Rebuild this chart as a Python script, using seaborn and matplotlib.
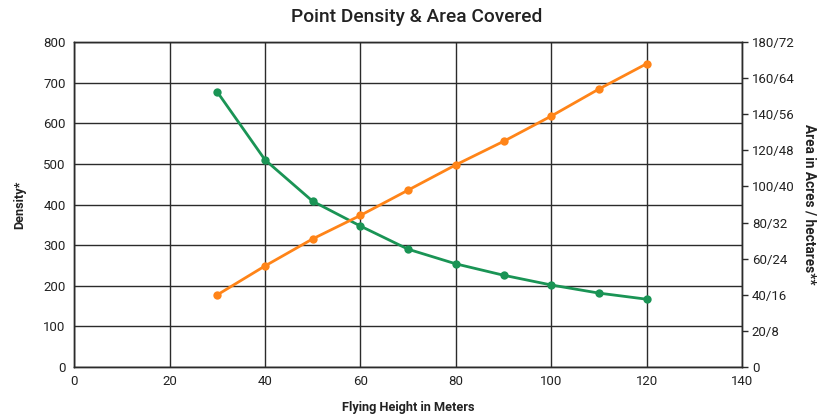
import matplotlib
matplotlib.use("Agg")
import matplotlib.pyplot as plt
import seaborn as sns
import pandas as pd

# values
heights = [30, 40, 50, 60, 70, 80, 90, 100, 110, 120]
density = [677, 510, 408, 347, 290, 254, 226, 202, 182, 167]
area = [40, 56, 71, 84, 98, 112, 125, 139, 154, 168]
right_ticks = [0, 20, 40, 60, 80, 100, 120, 140, 160, 180]
right_labels = ["0", "20/8", "40/16", "60/24", "80/32", "100/40",
                "120/48", "140/56", "160/64", "180/72"]

green = "#1a9455"
orange = "#ff8418"
grid_col = "#2b2b2b"

sns.set_theme(style="white")
plt.rcParams['font.family'] = ['Roboto', 'DejaVu Sans']

df = pd.DataFrame({"height": heights, "density": density, "area": area})

fig = plt.figure(figsize=(8.33, 4.2), dpi=100)
ax = fig.add_axes([0.089, 0.126, 0.802, 0.774])

sns.lineplot(data=df, x="height", y="density", ax=ax, color=green,
             marker="o", markersize=6, markeredgewidth=0, linewidth=2)
ax.set_xlim(0, 140)
ax.set_ylim(0, 800)
ax.set_xticks(range(0, 141, 20))
ax.set_yticks(range(0, 801, 100))
ax.grid(True, color=grid_col, linewidth=1)
ax.tick_params(axis="both", length=0, labelsize=9.5, colors="#222222", pad=6)
for s in ax.spines.values():
    s.set_color(grid_col)
    s.set_linewidth(1)
ax.set_xlabel("Flying Height in Meters", fontsize=9.2, fontweight="bold",
              color="#222222", labelpad=9)
ax.set_ylabel("Density*", fontsize=9.2, fontweight="bold", color="#222222", labelpad=12)

ax2 = ax.twinx()
sns.lineplot(data=df, x="height", y="area", ax=ax2, color=orange,
             marker="o", markersize=6, markeredgewidth=0, linewidth=2)
ax2.set_ylim(0, 180)
ax2.set_yticks(right_ticks)
ax2.set_yticklabels(right_labels)
ax2.tick_params(axis="y", length=4, width=1, color=grid_col, labelsize=9.5,
                colors="#222222", pad=3)
ax2.grid(False)
for s in ax2.spines.values():
    s.set_color(grid_col)
    s.set_linewidth(1)
ax2.set_ylabel("Area in Acres / hectares**", fontsize=9.8, fontweight="bold",
               color="#222222", rotation=270, labelpad=16)

fig.suptitle("Point Density & Area Covered", fontsize=13.8, fontweight="medium",
             color="#222222", y=0.98)

fig.savefig("out.png", dpi=100)
